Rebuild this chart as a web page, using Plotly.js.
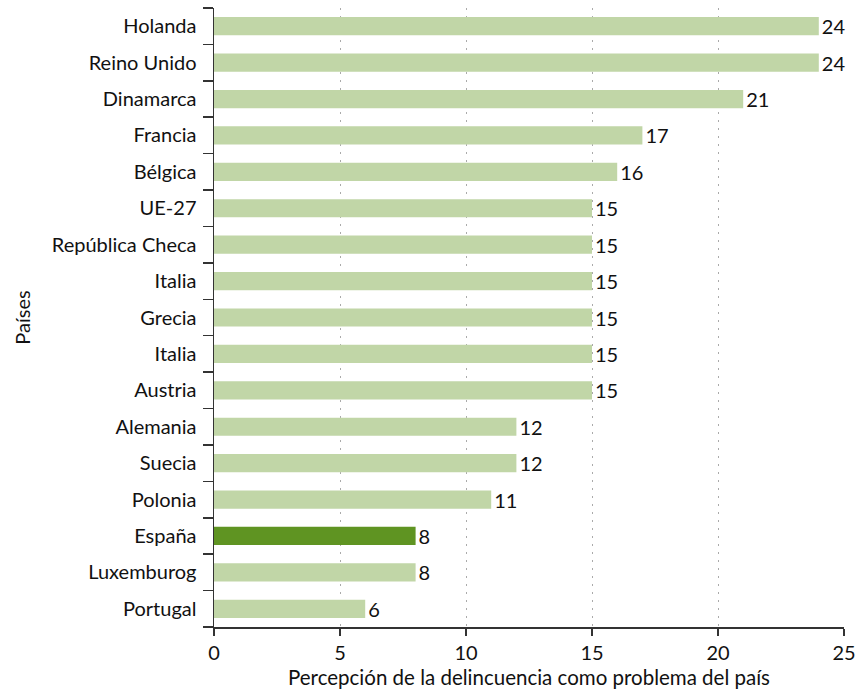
<!DOCTYPE html>
<html>
<head>
<meta charset="utf-8">
<script src="https://cdn.plot.ly/plotly-3.0.1.min.js"></script>
<style>html,body{margin:0;padding:0;background:#fff;}#chart{width:856px;height:693px;}</style>
</head>
<body>
<div id="chart"></div>
<script>
const countries = ["Holanda","Reino Unido","Dinamarca","Francia","Bélgica","UE-27","República Checa","Italia","Grecia","Italia","Austria","Alemania","Suecia","Polonia","España","Luxemburog","Portugal"];
const values = [24,24,21,17,16,15,15,15,15,15,15,12,12,11,8,8,6];
const highlight = "España";
const xTicks = [0,5,10,15,20,25];

const positions = countries.map((c,i)=>i);
const colors = countries.map(c => c === highlight ? "#5f9422" : "#c1d6a7");
const FONT = "Lato, Open Sans, sans-serif";
const FS = 20;

const trace = {
  type: "bar",
  orientation: "h",
  x: values,
  y: positions,
  marker: {color: colors},
  width: 0.5,
  text: values.map(String),
  textposition: "outside",
  constraintext: "none",
  cliponaxis: false,
  textfont: {family: FONT, size: FS, color: "#111"},
  hoverinfo: "x"
};

const layout = {
  width: 856, height: 693,
  margin: {l: 214, r: 12, t: 8, b: 66},
  paper_bgcolor: "#fff", plot_bgcolor: "#fff",
  showlegend: false,
  font: {family: FONT, size: FS, color: "#111"},
  xaxis: {
    range: [0, 25],
    tickvals: xTicks,
    ticks: "outside", ticklen: 7, tickcolor: "#333", tickwidth: 1.5,
    showline: true, linecolor: "#333", linewidth: 1.5,
    showgrid: true, gridcolor: "#aaa", griddash: "2px,6px", gridwidth: 1,
    zeroline: false,
    tickfont: {size: FS},
    title: {text: "Percepción de la delincuencia como problema del país", font: {size: 20.5}, standoff: 8}
  },
  yaxis: {
    range: [16.5, -0.5],
    tickvals: positions,
    ticktext: countries,
    ticks: "",
    ticklabelstandoff: 12,
    showline: true, linecolor: "#333", linewidth: 1.5,
    showgrid: false, zeroline: false,
    tickfont: {size: FS},
    minor: {tick0: -0.5, dtick: 1, ticks: "outside", ticklen: 10, tickcolor: "#333", tickwidth: 1.5, showgrid: false},
    title: {text: "Países", font: {size: FS}, standoff: 16}
  }
};

Plotly.newPlot("chart", [trace], layout, {displayModeBar: false, staticPlot: true});
</script>
</body>
</html>
